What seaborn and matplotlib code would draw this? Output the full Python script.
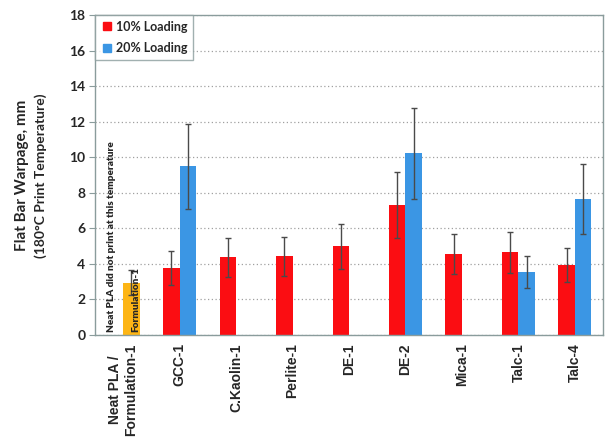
import matplotlib
matplotlib.use("Agg")
import matplotlib.pyplot as plt
import seaborn as sns
import pandas as pd
import numpy as np
from matplotlib.lines import Line2D

categories = ["Neat PLA /\nFormulation-1", "GCC-1", "C.Kaolin-1", "Perlite-1", "DE-1",
              "DE-2", "Mica-1", "Talc-1", "Talc-4"]
load10 = [np.nan, 3.78, 4.38, 4.42, 4.98, 7.30, 4.57, 4.66, 3.93]
err10 = [np.nan, 0.95, 1.10, 1.12, 1.25, 1.87, 1.14, 1.16, 0.96]
load20 = [2.94, 9.49, np.nan, np.nan, np.nan, 10.22, np.nan, 3.54, 7.66]
err20 = [0.70, 2.38, np.nan, np.nan, np.nan, 2.58, np.nan, 0.90, 1.98]
series = ["10% Loading", "20% Loading"]
colors = {"10% Loading": "#fb0d12", "20% Loading": "#3b96e4"}
neat_color = "#fdb515"
yticks = list(range(0, 19, 2))

rows = []
for i, c in enumerate(categories):
    rows.append((c, series[0], load10[i], err10[i]))
    rows.append((c, series[1], load20[i], err20[i]))
df = pd.DataFrame(rows, columns=["cat", "series", "value", "err"])

sns.set_style("white")
fig = plt.figure(figsize=(6.14, 4.44), dpi=100)
ax = fig.add_axes([0.1547, 0.2455, 0.8275, 0.7205])

sns.barplot(data=df.dropna(subset=["value"]), x="cat", y="value", hue="series",
            order=categories, hue_order=series, palette=colors, width=0.585,
            errorbar=None, legend=False, ax=ax, saturation=1, linewidth=0)

errmap = {(r.cat, r.series): r.err for r in df.itertuples()}
for cont, s in zip(ax.containers, series):
    for bar in cont:
        xc = bar.get_x() + bar.get_width() / 2
        idx = int(round(xc))
        cat = categories[idx]
        if idx == 0:
            bar.set_facecolor(neat_color)
        e = errmap[(cat, s)]
        ax.errorbar(xc, bar.get_height(), yerr=e, fmt="none", ecolor="#4a4a4a",
                    elinewidth=1.0, capsize=2.2, capthick=1.0, zorder=5)

ax.set_xlim(-0.5, len(categories) - 0.5)
ax.set_ylim(0, 18)
ax.set_yticks(yticks)
ax.set_yticklabels([str(t) for t in yticks], fontfamily="Lato", fontweight="bold", fontsize=10)
ax.yaxis.grid(True, linestyle=(0, (1, 2)), color="#a0a0a0", linewidth=0.9)
ax.set_axisbelow(True)

ax.set_xticks(range(len(categories)))
ax.set_xticklabels(categories, rotation=90, fontfamily="Liberation Sans",
                   fontweight="bold", fontsize=10, va="top", ha="center",
                   multialignment="center")
ax.set_xticks(np.arange(-0.5, len(categories)), minor=True)
ax.tick_params(axis="x", which="major", length=0, pad=6)
ax.tick_params(axis="x", which="minor", length=4, color="#8a9c9c", width=0.8, direction="out")
ax.tick_params(axis="y", length=4, color="#8a9c9c", width=0.8, direction="out", pad=3, left=True)
ax.set_xlabel("")
ax.set_ylabel("")
for sp in ax.spines.values():
    sp.set_visible(True)
    sp.set_color("#8a9c9c")
    sp.set_linewidth(1.0)

fig.text(0.036, 0.605, "Flat Bar Warpage, mm", rotation=90, ha="center", va="center",
         fontfamily="Lato", fontweight="bold", fontsize=11)
fig.text(0.067, 0.605, "(180°C Print Temperature)", rotation=90, ha="center", va="center",
         fontfamily="Lato", fontweight="bold", fontsize=10)

ax.text(-0.2, 0.15, "Neat PLA did not print at this temperature", rotation=90,
        ha="center", va="bottom", fontfamily="Lato", fontweight="heavy", fontsize=7.2)
ax.text(0.23, 0.15, "Formulation-1", rotation=90, ha="center", va="bottom",
        fontfamily="Lato", fontweight="heavy", fontsize=7.2, zorder=6)

handles = [Line2D([], [], marker="s", linestyle="none", markersize=6,
                  markerfacecolor=colors[s], markeredgecolor=colors[s]) for s in series]
leg = ax.legend(handles, series, loc="upper left", borderaxespad=0, frameon=True,
                fancybox=False, handletextpad=0.2, handlelength=1.0, labelspacing=0.75,
                borderpad=0.45, prop={"family": "Lato", "weight": "bold", "size": 9})
leg.get_frame().set_edgecolor("#8a9c9c")
leg.get_frame().set_linewidth(1.0)

fig.savefig("out.png", dpi=100)
